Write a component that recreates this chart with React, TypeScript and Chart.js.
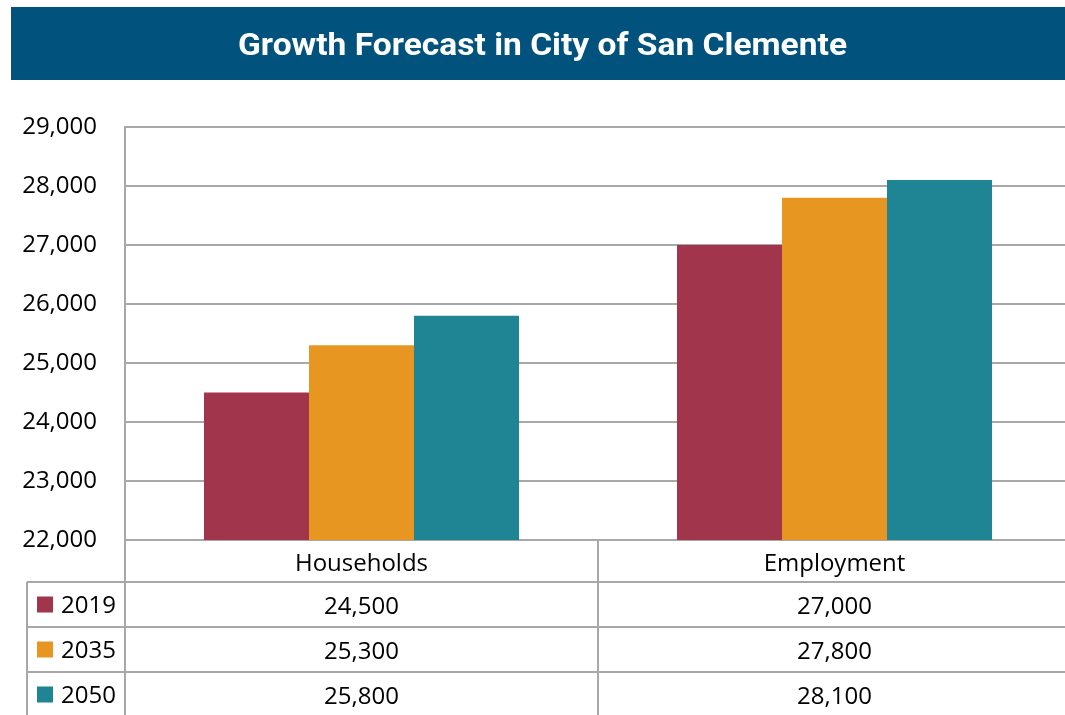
import React, { useEffect, useRef } from "react";
import { Chart, registerables } from "chart.js";

Chart.register(...registerables);

const title = "Growth Forecast in City of San Clemente";
const categories = ["Households", "Employment"];
const seriesLabels = ["2019", "2035", "2050"];
const values2019 = [24500, 27000];
const values2035 = [25300, 27800];
const values2050 = [25800, 28100];
const seriesColors = ["#A0354C", "#E89622", "#1F8595"];
const yMin = 22000;
const yMax = 29000;
const yStep = 1000;

const GRAY = "#A8A8A8";
const FONT = '"Open Sans", "Noto Sans", sans-serif';

const tablePlugin = {
  id: "tablePlugin",
  afterDraw(chart: any) {
    const ctx = chart.ctx as CanvasRenderingContext2D;
    const area = chart.chartArea;
    const xs = chart.scales.x;
    const W = chart.width;
    const H = chart.height;
    ctx.save();
    // Title banner
    ctx.fillStyle = "#02527E";
    ctx.fillRect(11, 7, W - 11, 73);
    ctx.fillStyle = "#FFFFFF";
    ctx.font = 'bold 31px Roboto, "DejaVu Sans", sans-serif';
    ctx.textBaseline = "alphabetic";
    ctx.textAlign = "left";
    const tw = ctx.measureText(title).width;
    const targetW = 609;
    const sx = targetW / tw;
    ctx.save();
    ctx.translate(542.5 - targetW / 2, 55);
    ctx.scale(sx, 1);
    ctx.fillText(title, 0, 0);
    ctx.restore();

    // Table
    const left = area.left;
    const bottom = area.bottom;
    const centers = categories.map((_, i) => xs.getPixelForValue(i));
    const mid = (centers[0] + centers[1]) / 2;
    const headerBottom = 582;
    const rowH = 45;
    const tableLeft = 27;

    ctx.strokeStyle = GRAY;
    ctx.lineWidth = 2;
    ctx.beginPath();
    ctx.moveTo(left, bottom);
    ctx.lineTo(left, H);
    ctx.moveTo(mid, bottom);
    ctx.lineTo(mid, H);
    ctx.moveTo(tableLeft, headerBottom);
    ctx.lineTo(tableLeft, H);
    for (let r = 0; r < 3; r++) {
      const y = headerBottom + r * rowH;
      ctx.moveTo(tableLeft, y);
      ctx.lineTo(W, y);
    }
    ctx.stroke();

    ctx.fillStyle = "#000000";
    ctx.font = `24px ${FONT}`;
    ctx.textBaseline = "middle";
    ctx.textAlign = "center";
    categories.forEach((c, i) => {
      ctx.fillText(c, centers[i], (bottom + headerBottom) / 2 + 3);
    });
    const allValues = [values2019, values2035, values2050];
    seriesLabels.forEach((s, r) => {
      const cy = headerBottom + r * rowH + rowH / 2;
      ctx.fillStyle = seriesColors[r];
      ctx.fillRect(37, cy - 8, 16, 16);
      ctx.fillStyle = "#000000";
      ctx.textAlign = "left";
      ctx.fillText(s, 61, cy + 2);
      ctx.textAlign = "center";
      allValues[r].forEach((v, i) => {
        ctx.fillText(v.toLocaleString("en-US"), centers[i], cy + 3);
      });
    });
    ctx.restore();
  },
};

export default function App() {
  const canvasRef = useRef<HTMLCanvasElement | null>(null);

  useEffect(() => {
    if (!canvasRef.current) return;
    const chart = new Chart(canvasRef.current, {
      type: "bar",
      data: {
        labels: categories,
        datasets: [
          { label: seriesLabels[0], data: values2019, backgroundColor: seriesColors[0] },
          { label: seriesLabels[1], data: values2035, backgroundColor: seriesColors[1] },
          { label: seriesLabels[2], data: values2050, backgroundColor: seriesColors[2] },
        ],
      },
      options: {
        responsive: false,
        animation: false,
        devicePixelRatio: 1,
        layout: { padding: { top: 127, bottom: 175, left: 0, right: 4 } },
        datasets: {
          bar: { barPercentage: 1, categoryPercentage: 0.666, borderWidth: 0 },
        },
        plugins: {
          legend: { display: false },
          tooltip: { enabled: false },
          title: { display: false },
        },
        scales: {
          x: {
            display: false,
            grid: { display: false },
          },
          y: {
            min: yMin,
            max: yMax,
            ticks: {
              stepSize: yStep,
              color: "#000000",
              font: { family: FONT, size: 24 },
              padding: 28,
              callback: (v: any) => Number(v).toLocaleString("en-US"),
            },
            grid: { color: GRAY, lineWidth: 2, drawTicks: false },
            border: { display: true, color: GRAY, width: 2 },
            afterFit: (scale: any) => {
              scale.width = 125;
            },
          },
        },
      },
      plugins: [tablePlugin],
    });
    return () => chart.destroy();
  }, []);

  return (
    <div
      style={{
        position: "fixed",
        left: 0,
        top: 0,
        width: 1065,
        height: 715,
        overflow: "hidden",
        background: "#FFFFFF",
      }}
    >
      <canvas ref={canvasRef} width={1075} height={715} style={{ display: "block" }} />
    </div>
  );
}
